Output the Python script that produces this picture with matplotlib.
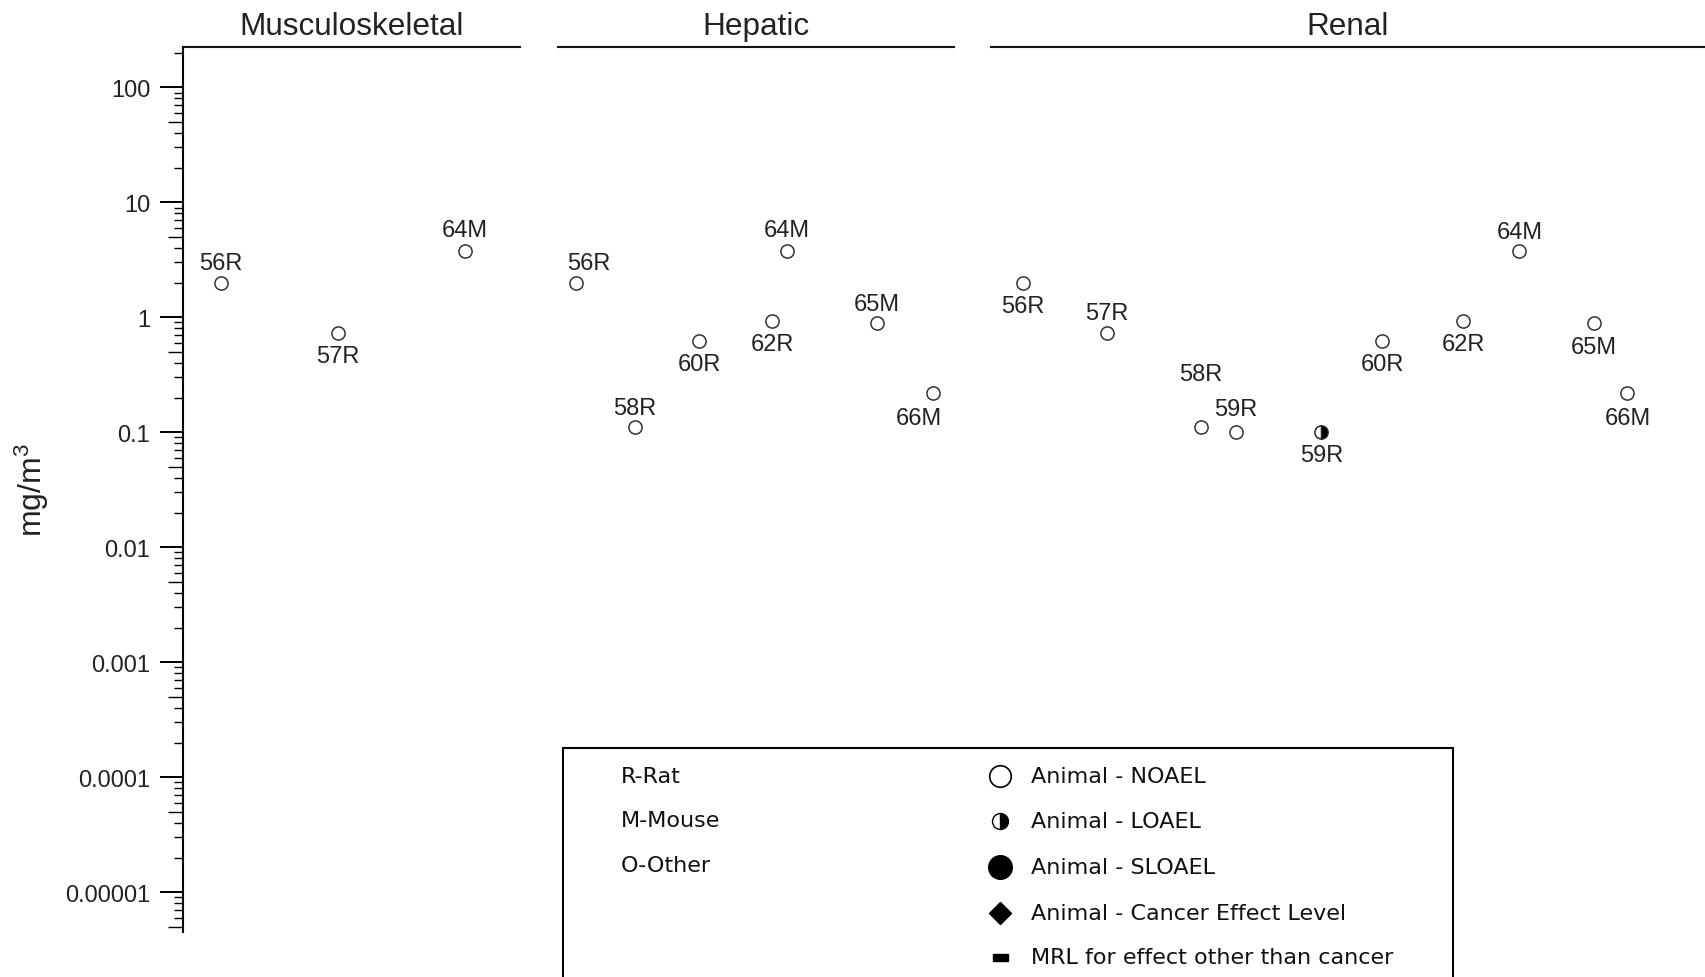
import matplotlib.pyplot as plt
import numpy as np
from matplotlib.ticker import FixedLocator, FuncFormatter, LogLocator, NullLocator
from matplotlib.transforms import blended_transform_factory
from matplotlib.patches import Rectangle

plt.rcParams['font.family'] = ['Liberation Sans', 'DejaVu Sans']
plt.rcParams['mathtext.default'] = 'regular'

# --- data ---
systems = ['Musculoskeletal', 'Hepatic', 'Renal']
system_span = [(0, 22.2), (24.6, 50.7), (53.0, 100)]

labels = ['56R', '57R', '64M',
          '56R', '58R', '60R', '62R', '64M', '65M', '66M',
          '56R', '57R', '58R', '59R', '59R', '60R', '62R', '64M', '65M', '66M']
x_pos = [2.5, 10.2, 18.5,
         25.8, 29.7, 33.9, 38.7, 39.7, 45.6, 49.3,
         55.2, 60.7, 66.9, 69.2, 74.8, 78.8, 84.1, 87.8, 92.7, 94.9]
dose = [2.0, 0.73, 3.8,
        2.0, 0.11, 0.62, 0.92, 3.8, 0.89, 0.22,
        2.0, 0.73, 0.11, 0.1, 0.1, 0.62, 0.92, 3.8, 0.89, 0.22]
effect = ['NOAEL'] * 14 + ['LOAEL'] + ['NOAEL'] * 5

# label offsets (pixels) for each point label
label_dx = [0, 0, 0,
            13, 0, 0, 0, 0, 0, -14,
            0, 0, 0, 0, 0, 0, 0, 0, 0, 0]
label_dy = [20, -23, 21,
            20, 19, -23, -23, 21, 19, -25,
            -23, 20, 53, 23, -23, -23, -23, 19, -24, -25]

species_labels = ['R-Rat', 'M-Mouse', 'O-Other']
effect_labels = ['Animal - NOAEL', 'Animal - LOAEL', 'Animal - SLOAEL',
                 'Animal - Cancer Effect Level', 'MRL for effect other than cancer']

W, H = 1705, 978
fig = plt.figure(figsize=(W / 100, H / 100), dpi=100)
ax = fig.add_axes([183 / W, 1 - 933 / H, 1 - 183 / W, (933 - 48) / H])
ylim = (4.5e-6, 224)
ax.set_yscale('log')
ax.set_ylim(*ylim)
ax.set_xlim(0, 100)
ax.patch.set_visible(False)

for s in ['top', 'right', 'bottom']:
    ax.spines[s].set_visible(False)
ax.spines['left'].set_linewidth(1.5)
ax.xaxis.set_visible(False)

ax.yaxis.set_major_locator(FixedLocator([10.0 ** k for k in range(-5, 3)]))
ax.yaxis.set_major_formatter(FuncFormatter(
    lambda v, p: np.format_float_positional(v, trim='-')))
ax.yaxis.set_minor_locator(LogLocator(base=10, subs=(2, 3, 4, 6, 7, 8, 9), numticks=100))
ax.tick_params(axis='y', which='major', length=16.5, width=1.4, pad=7,
               labelsize=17, labelcolor='#222222')
ax.tick_params(axis='y', which='minor', length=6.7, width=1.0)

# overlay axes for the longer 5x ticks
ax5 = fig.add_axes(ax.get_position(), frameon=False)
ax5.set_yscale('log')
ax5.set_ylim(*ylim)
ax5.set_xticks([])
ax5.yaxis.set_major_locator(FixedLocator([5 * 10.0 ** k for k in range(-6, 2)]))
ax5.yaxis.set_minor_locator(NullLocator())
ax5.tick_params(axis='y', which='major', length=10.8, width=1.0, labelleft=False)

ax.set_ylabel('mg/m$^3$', fontsize=23, color='#222222')
ax.yaxis.set_label_coords(-0.087, 0.5)

# organ system headers
trans = blended_transform_factory(ax.transData, ax.transAxes)
for name, (x0, x1) in zip(systems, system_span):
    ax.plot([x0, x1], [1, 1], color='#111111', lw=1.5, transform=trans,
            clip_on=False, solid_capstyle='butt')
    ax.text((x0 + x1) / 2, 1.015, name, transform=trans, ha='center',
            va='baseline', fontsize=22.7, color='#222222')

# points
for x, y, e, lab, dx, dy in zip(x_pos, dose, effect, labels, label_dx, label_dy):
    if e == 'LOAEL':
        ax.plot(x, y, 'o', ms=9.5, fillstyle='right', markerfacecolor='black',
                markerfacecoloralt='white', mec='#222222', mew=1.1, zorder=3)
    else:
        ax.plot(x, y, 'o', ms=9.5, mfc='white', mec='#333333', mew=1.1, zorder=3)
    ax.annotate(lab, (x, y), xytext=(dx, dy), textcoords='offset pixels',
                ha='center', va='center', fontsize=17, color='#222222')

# legend box
lax = fig.add_axes([563 / W, 1 - 1030 / H, (1453 - 563) / W, (1030 - 749) / H])
lax.set_xlim(563, 1453)
lax.set_ylim(1030, 749)
lax.set_xticks([])
lax.set_yticks([])
for s in lax.spines.values():
    s.set_linewidth(1.5)
    s.set_color('black')

lfont = dict(family='DejaVu Sans', fontsize=16, color='#111111', va='center', ha='left')
for lab, yy in zip(species_labels, [777, 821, 866]):
    lax.text(621, yy, lab, **lfont)

rows = [777, 822, 868, 914, 958]
lax.plot(1000, rows[0], 'o', ms=15.5, mfc='white', mec='black', mew=1.2)
lax.plot(1000, rows[1], 'o', ms=11.5, fillstyle='right', markerfacecolor='black',
         markerfacecoloralt='white', mec='black', mew=1.0)
lax.plot(1000, rows[2], 'o', ms=17, color='black')
lax.plot(1000, rows[3], 'D', ms=11.5, color='black')
lax.add_patch(Rectangle((992.5, rows[4] - 3.5), 15, 7, color='black'))
for lab, yy in zip(effect_labels, rows):
    lax.text(1031, yy, lab, **lfont)

fig.savefig('out.png', dpi=100)
